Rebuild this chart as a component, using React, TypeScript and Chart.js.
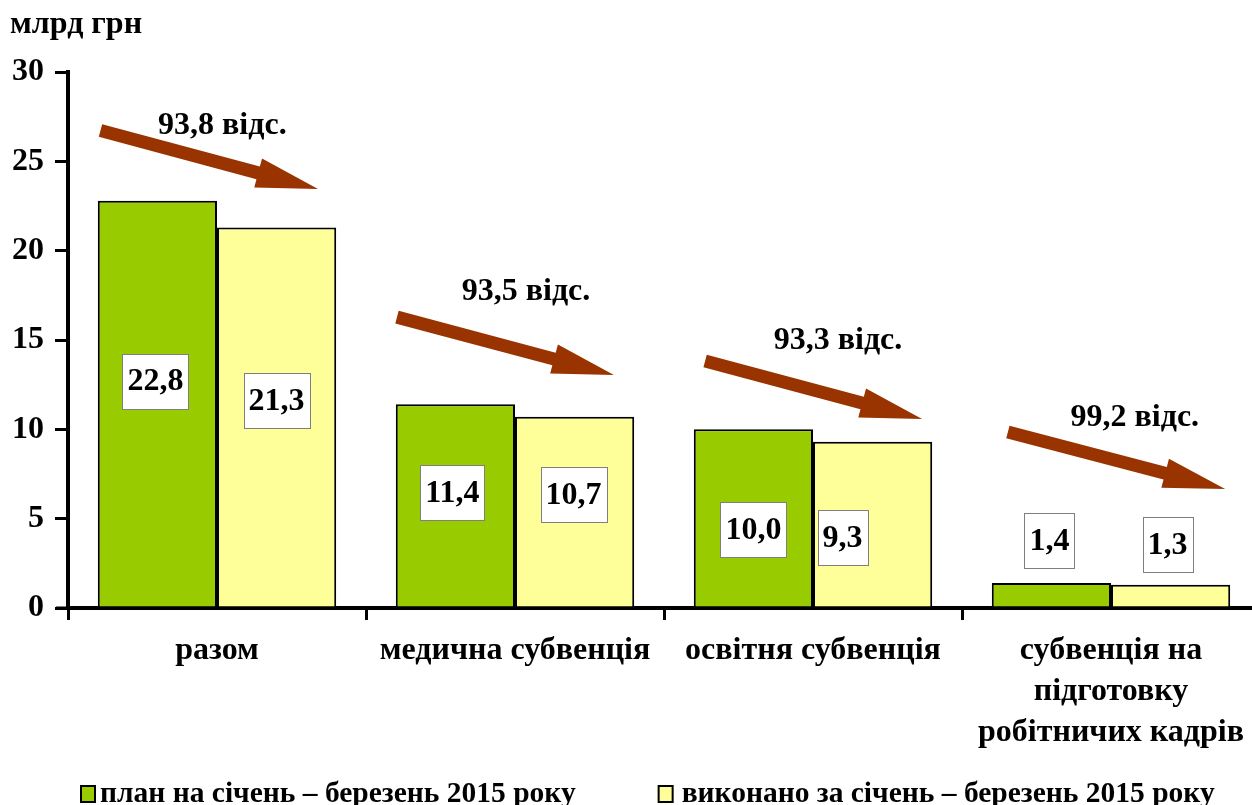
import React, { useEffect, useRef } from "react";
import { Chart, registerables } from "chart.js";

Chart.register(...registerables);

// ---------- data ----------
const categories: (string | string[])[] = [
  "разом",
  "медична субвенція",
  "освітня субвенція",
  ["субвенція на", "підготовку", "робітничих кадрів"],
];
const planValues = [22.8, 11.4, 10.0, 1.4];
const actualValues = [21.3, 10.7, 9.3, 1.3];
const executionPct = ["93,8", "93,5", "93,3", "99,2"];
const seriesNames = [
  "план на січень – березень 2015 року",
  "виконано за січень – березень 2015 року",
];
const unitLabel = "млрд грн";
const pctSuffix = " відс.";
const yMin = 0;
const yMax = 30;
const yStep = 5;

// ---------- layout / styling ----------
const FONT = "'Liberation Serif', 'Times New Roman', serif";
const GREEN = "#99CC00";
const YELLOW = "#FFFF99";
const ARROW = "#993300";

// value-label anchors (value units) and x nudges (px)
const planLabelAt = [12.7, 6.44, 4.39, 3.78];
const actualLabelAt = [11.59, 6.33, 3.92, 3.55];
const planLabelDx = [-2, -3, 0, -2];
const actualLabelDx = [0, -1, -30, -3];

// arrows: tail / tip, x as fraction of category width from its centre, y in value units
const arrowTailDx = [-0.391, -0.396, -0.362, -0.346];
const arrowTailY = [26.73, 16.28, 13.82, 9.85];
const arrowTipDx = [0.339, 0.332, 0.366, 0.383];
const arrowTipY = [23.45, 13.04, 10.58, 6.66];
const pctDx = [0.018, 0.037, 0.084, 0.08];
const pctY = [27.0, 17.68, 14.94, 10.63];

const fmt = (v: number) => v.toFixed(1).replace(".", ",");

function drawArrow(ctx: CanvasRenderingContext2D, x1: number, y1: number, x2: number, y2: number) {
  const dx = x2 - x1, dy = y2 - y1;
  const len = Math.hypot(dx, dy);
  const ux = dx / len, uy = dy / len;
  const px = -uy, py = ux;
  const sw = 13, hw = 30, hl = 62;
  const bx = x2 - ux * hl, by = y2 - uy * hl;
  ctx.save();
  ctx.fillStyle = ARROW;
  ctx.beginPath();
  ctx.moveTo(x1 + px * sw / 2, y1 + py * sw / 2);
  ctx.lineTo(bx + px * sw / 2, by + py * sw / 2);
  ctx.lineTo(bx + px * hw / 2, by + py * hw / 2);
  ctx.lineTo(x2, y2);
  ctx.lineTo(bx - px * hw / 2, by - py * hw / 2);
  ctx.lineTo(bx - px * sw / 2, by - py * sw / 2);
  ctx.lineTo(x1 - px * sw / 2, y1 - py * sw / 2);
  ctx.closePath();
  ctx.fill();
  ctx.restore();
}

const annotations = {
  id: "annotations",
  afterDatasetsDraw(chart: any) {
    const ctx: CanvasRenderingContext2D = chart.ctx;
    const xs = chart.scales.x;
    const ys = chart.scales.y;
    const catW = (xs.right - xs.left) / categories.length;

    // arrows + percentages
    for (let i = 0; i < categories.length; i++) {
      const cx = xs.getPixelForValue(i);
      drawArrow(
        ctx,
        cx + arrowTailDx[i] * catW,
        ys.getPixelForValue(arrowTailY[i]),
        cx + arrowTipDx[i] * catW,
        ys.getPixelForValue(arrowTipY[i])
      );
      ctx.save();
      ctx.font = `bold 32px ${FONT}`;
      ctx.fillStyle = "#000";
      ctx.textAlign = "center";
      ctx.textBaseline = "middle";
      ctx.fillText(executionPct[i] + pctSuffix, cx + pctDx[i] * catW, ys.getPixelForValue(pctY[i]));
      ctx.restore();
    }

    // value labels
    const anchors = [planLabelAt, actualLabelAt];
    const nudges = [planLabelDx, actualLabelDx];
    chart.data.datasets.forEach((ds: any, di: number) => {
      const meta = chart.getDatasetMeta(di);
      meta.data.forEach((bar: any, i: number) => {
        const text = fmt(ds.data[i]);
        const x = bar.x + nudges[di][i];
        const y = ys.getPixelForValue(anchors[di][i]);
        ctx.save();
        ctx.font = `bold 32px ${FONT}`;
        const w = ctx.measureText(text).width + 10;
        const h = 55;
        const bx = Math.round(x - w / 2) + 0.5;
        const by = Math.round(y - h / 2) + 0.5;
        ctx.fillStyle = "#fff";
        ctx.fillRect(bx, by, Math.round(w), h);
        ctx.strokeStyle = "#7f7f7f";
        ctx.lineWidth = 1;
        ctx.strokeRect(bx, by, Math.round(w), h);
        ctx.fillStyle = "#000";
        ctx.textAlign = "center";
        ctx.textBaseline = "middle";
        ctx.fillText(text, x, y + 1);
        ctx.restore();
      });
    });

    // extend the zero tick to the left, as in the reference
    ctx.save();
    ctx.strokeStyle = "#000";
    ctx.lineWidth = 3;
    const y0 = ys.getPixelForValue(0);
    ctx.beginPath();
    ctx.moveTo(56, y0);
    ctx.lineTo(xs.left, y0);
    ctx.stroke();
    ctx.restore();
  },
  afterDraw(chart: any) {
    const ctx: CanvasRenderingContext2D = chart.ctx;
    ctx.save();
    // unit label
    ctx.font = `bold 32px ${FONT}`;
    ctx.fillStyle = "#000";
    ctx.textAlign = "left";
    ctx.textBaseline = "middle";
    ctx.fillText(unitLabel, 10, 25);

    // legend
    ctx.font = `bold 29.5px ${FONT}`;
    let x = 80;
    const cy = 794;
    chart.data.datasets.forEach((ds: any, i: number) => {
      ctx.fillStyle = ds.backgroundColor;
      ctx.fillRect(x, cy - 9, 16, 18);
      ctx.strokeStyle = "#000";
      ctx.lineWidth = 2;
      ctx.strokeRect(x + 1, cy - 8, 14, 16);
      ctx.fillStyle = "#000";
      ctx.textAlign = "left";
      ctx.textBaseline = "middle";
      const tx = x + (i === 0 ? 20 : 24);
      ctx.fillText(ds.label, tx, cy);
      x = tx + ctx.measureText(ds.label).width + 82;
    });
    ctx.restore();
  },
};

export default function App() {
  const ref = useRef<HTMLCanvasElement | null>(null);

  useEffect(() => {
    if (!ref.current) return;
    const chart = new Chart(ref.current, {
      type: "bar",
      data: {
        labels: categories as any,
        datasets: [
          {
            label: seriesNames[0],
            data: planValues,
            backgroundColor: GREEN,
            borderColor: "#000",
            borderWidth: 2,
          },
          {
            label: seriesNames[1],
            data: actualValues,
            backgroundColor: YELLOW,
            borderColor: "#000",
            borderWidth: 2,
          },
        ],
      },
      options: {
        animation: false,
        responsive: false,
        devicePixelRatio: 1,
        datasets: { bar: { categoryPercentage: 0.8, barPercentage: 1.0 } },
        layout: { padding: { top: 72, right: 2, bottom: 0, left: 0 } },
        plugins: { legend: { display: false }, tooltip: { enabled: false } },
        scales: {
          x: {
            grid: {
              offset: true,
              drawOnChartArea: false,
              color: "#000",
              lineWidth: 3,
              tickLength: 12,
            },
            border: { color: "#000", width: 4 },
            ticks: {
              color: "#000",
              font: { family: FONT, weight: "bold", size: 32, lineHeight: 1.28 },
              padding: 10,
              maxRotation: 0,
              autoSkip: false,
            },
            afterFit: (s: any) => {
              s.height = 197;
            },
          },
          y: {
            min: yMin,
            max: yMax,
            ticks: {
              stepSize: yStep,
              color: "#000",
              font: { family: FONT, weight: "bold", size: 32 },
              padding: 11,
            },
            grid: {
              drawOnChartArea: false,
              color: "#000",
              lineWidth: 3,
              tickLength: 13,
            },
            border: { color: "#000", width: 4 },
            afterFit: (s: any) => {
              s.width = 68;
            },
          },
        },
      } as any,
      plugins: [annotations],
    });
    return () => chart.destroy();
  }, []);

  return (
    <div
      style={{
        position: "fixed",
        left: 0,
        top: 0,
        width: 1252,
        height: 805,
        overflow: "hidden",
        background: "#fff",
      }}
    >
      <canvas ref={ref} width={1262} height={805} style={{ width: 1262, height: 805, display: "block" }} />
    </div>
  );
}
